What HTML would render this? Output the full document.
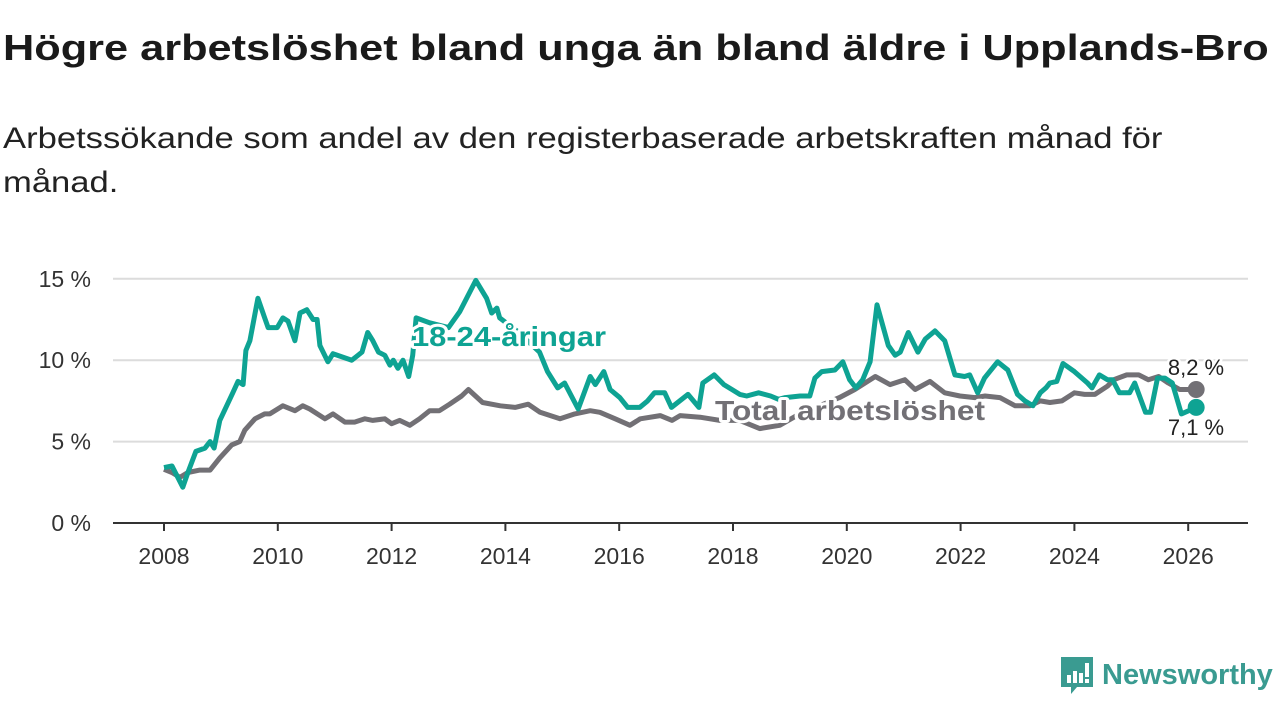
<!DOCTYPE html>
<html><head><meta charset="utf-8">
<style>
body{margin:0;width:1280px;height:720px;background:#fff;font-family:"Liberation Sans","DejaVu Sans",sans-serif;overflow:hidden;position:relative;color:#1a1a1a}
h1{position:absolute;left:3px;top:27px;margin:0;font-size:36px;font-weight:bold;white-space:nowrap;transform:scaleX(1.203);transform-origin:0 0}
p.sub{position:absolute;left:3px;top:117px;margin:0;font-size:30px;line-height:44px;white-space:nowrap;color:#222;transform:scaleX(1.153);transform-origin:0 0}
svg{position:absolute;left:0;top:0}
</style></head><body>
<h1>Högre arbetslöshet bland unga än bland äldre i Upplands-Bro</h1>
<p class="sub">Arbetssökande som andel av den registerbaserade arbetskraften månad för<br>månad.</p>
<svg id="chart" width="1280" height="720"></svg>
<div style="position:absolute;left:1059px;top:655px;display:flex;align-items:center">
<svg width="36" height="40" viewBox="0 0 36 40" style="position:static"><path d="M2 2H34V32H18L12 39V32H2Z" fill="#3a9b91"/><rect x="8" y="20" width="4" height="8" fill="#fff"/><rect x="14" y="16" width="4" height="12" fill="#fff"/><rect x="20" y="18" width="4" height="10" fill="#fff"/><rect x="26" y="8" width="4" height="14" fill="#fff"/><rect x="26" y="24" width="4" height="4" fill="#fff"/></svg>
<span style="font-size:29px;color:#3a9b91;margin-left:7px;font-weight:bold;transform:scaleX(1.0);display:inline-block">Newsworthy</span></div>
<script>
const yTicks=[0,5,10,15];
const xTicks=[2008,2010,2012,2014,2016,2018,2020,2022,2024,2026];
const youthYears=[2008.0,2008.14,2008.33,2008.42,2008.56,2008.72,2008.81,2008.88,2008.98,2009.21,2009.3,2009.39,2009.44,2009.51,2009.65,2009.77,2009.83,2009.99,2010.09,2010.18,2010.3,2010.39,2010.51,2010.62,2010.69,2010.74,2010.88,2010.97,2011.3,2011.41,2011.48,2011.58,2011.67,2011.77,2011.88,2011.97,2012.03,2012.11,2012.2,2012.3,2012.37,2012.43,2012.67,2013.0,2013.2,2013.48,2013.67,2013.76,2013.85,2013.9,2014.2,2014.6,2014.74,2014.92,2015.04,2015.28,2015.49,2015.58,2015.73,2015.84,2016.01,2016.15,2016.36,2016.5,2016.62,2016.8,2016.92,2017.21,2017.4,2017.47,2017.67,2017.84,2017.98,2018.12,2018.24,2018.45,2018.66,2018.8,2018.92,2019.18,2019.35,2019.44,2019.56,2019.79,2019.93,2020.05,2020.16,2020.28,2020.41,2020.53,2020.73,2020.85,2020.94,2021.08,2021.25,2021.38,2021.55,2021.72,2021.9,2022.07,2022.16,2022.3,2022.42,2022.65,2022.83,2023.0,2023.13,2023.27,2023.4,2023.5,2023.57,2023.69,2023.8,2024.0,2024.23,2024.31,2024.44,2024.58,2024.67,2024.79,2024.97,2025.06,2025.25,2025.34,2025.46,2025.59,2025.72,2025.88,2026.14];
const youthVals=[3.4,3.5,2.2,3.1,4.4,4.6,5.0,4.6,6.3,8.0,8.7,8.5,10.6,11.2,13.8,12.6,12.0,12.0,12.6,12.4,11.2,12.9,13.1,12.5,12.5,10.9,9.9,10.4,10.0,10.3,10.5,11.7,11.2,10.5,10.3,9.7,10.0,9.5,10.0,9.0,10.3,12.6,12.3,12.0,13.0,14.9,13.8,12.9,13.2,12.6,11.8,10.5,9.3,8.3,8.6,7.0,9.0,8.5,9.3,8.2,7.7,7.1,7.1,7.5,8.0,8.0,7.1,7.9,7.1,8.6,9.1,8.5,8.2,7.9,7.8,8.0,7.8,7.6,7.7,7.8,7.8,8.9,9.3,9.4,9.9,8.8,8.3,8.8,9.9,13.4,10.9,10.3,10.5,11.7,10.5,11.3,11.8,11.2,9.1,9.0,9.1,8.0,8.9,9.9,9.4,7.9,7.5,7.2,8.0,8.3,8.6,8.7,9.8,9.3,8.6,8.3,9.1,8.8,8.8,8.0,8.0,8.6,6.8,6.8,8.9,8.9,8.6,6.7,7.1];
const totalYears=[2008.0,2008.14,2008.28,2008.42,2008.63,2008.81,2008.98,2009.19,2009.33,2009.42,2009.6,2009.77,2009.86,2010.09,2010.3,2010.44,2010.56,2010.83,2010.97,2011.18,2011.35,2011.53,2011.67,2011.88,2012.0,2012.14,2012.32,2012.49,2012.67,2012.84,2013.02,2013.23,2013.35,2013.6,2013.91,2014.17,2014.4,2014.61,2014.96,2015.22,2015.49,2015.66,2015.93,2016.19,2016.37,2016.72,2016.93,2017.07,2017.42,2017.77,2018.12,2018.47,2018.82,2019.17,2019.52,2019.87,2020.14,2020.5,2020.76,2021.02,2021.2,2021.46,2021.72,2021.99,2022.25,2022.43,2022.69,2022.96,2023.22,2023.4,2023.57,2023.78,2024.0,2024.18,2024.36,2024.58,2024.69,2024.92,2025.13,2025.3,2025.48,2025.65,2025.85,2026.14];
const totalVals=[3.3,3.1,2.8,3.1,3.25,3.25,4.0,4.8,5.0,5.7,6.4,6.7,6.7,7.2,6.9,7.2,7.0,6.4,6.7,6.2,6.2,6.4,6.3,6.4,6.1,6.3,6.0,6.4,6.9,6.9,7.3,7.8,8.2,7.4,7.2,7.1,7.3,6.8,6.4,6.7,6.9,6.8,6.4,6.0,6.4,6.6,6.3,6.6,6.5,6.3,6.3,5.8,6.0,6.7,7.2,7.7,8.2,9.0,8.5,8.8,8.2,8.7,8.0,7.8,7.7,7.8,7.7,7.2,7.2,7.5,7.4,7.5,8.0,7.9,7.9,8.4,8.8,9.1,9.1,8.8,9.0,8.6,8.2,8.2];
const NS="http://www.w3.org/2000/svg";
const svg=document.getElementById('chart');
const x=v=>164+(v-2008)*56.9;
const y=v=>523-v*16.28;
function el(t,a,p){const e=document.createElementNS(NS,t);for(const k in a)e.setAttribute(k,a[k]);(p||svg).appendChild(e);return e;}
yTicks.forEach(t=>{
  if(t>0){const g=el('line',{x1:113,x2:1248,y1:y(t),y2:y(t),stroke:'#dcdcdc','stroke-width':2});
  
  }
  const l=el('text',{x:91,y:y(t)+8,'text-anchor':'end','font-size':23,fill:'#333'});l.textContent=t+' %';
  
  
});
const ax=el('line',{x1:113,x2:1248,y1:523,y2:523,stroke:'#333','stroke-width':2});


xTicks.forEach(t=>{
  el('line',{x1:x(t),x2:x(t),y1:523,y2:531,stroke:'#333','stroke-width':2});
  const l=el('text',{x:x(t),y:564,'text-anchor':'middle','font-size':23,fill:'#333'});l.textContent=t;
  
  
});
function line(xs,vs,c,name){
  const d=xs.map((v,i)=>(i?'L':'M')+x(v).toFixed(1)+' '+y(vs[i]).toFixed(1)).join(' ');
  const p=el('path',{d:d,fill:'none',stroke:c,'stroke-width':5,'stroke-linejoin':'round'});
  
  
  const n=xs.length-1;
  const dot=el('circle',{cx:x(xs[n]),cy:y(vs[n]),r:8.5,fill:c});
  
  
}
line(totalYears,totalVals,'#727075','total-line');
line(youthYears,youthVals,'#0ea393','youth-line');
function lab(txt,xx,yy,c,name,bold,anchor,len){
  const a={x:xx,y:yy,'font-size':bold?28:22,'font-weight':bold?'bold':'normal',fill:c,stroke:'#fff','stroke-width':bold?6:5,'paint-order':'stroke','stroke-linejoin':'round','text-anchor':anchor||'start'};
  if(len){a.textLength=len;a.lengthAdjust='spacingAndGlyphs';}
  const t=el('text',a);
  t.textContent=txt;
  
  
}
lab('18-24-åringar',412,346,'#0ea393','youth-series-label',true,'start',194);
lab('Total arbetslöshet',715,420,'#727075','total-series-label',true,'start',270);
lab('8,2 %',1196,375,'#222','total-end-value',false,'middle');
lab('7,1 %',1196,435,'#222','youth-end-value',false,'middle');
</script>
</body></html>
